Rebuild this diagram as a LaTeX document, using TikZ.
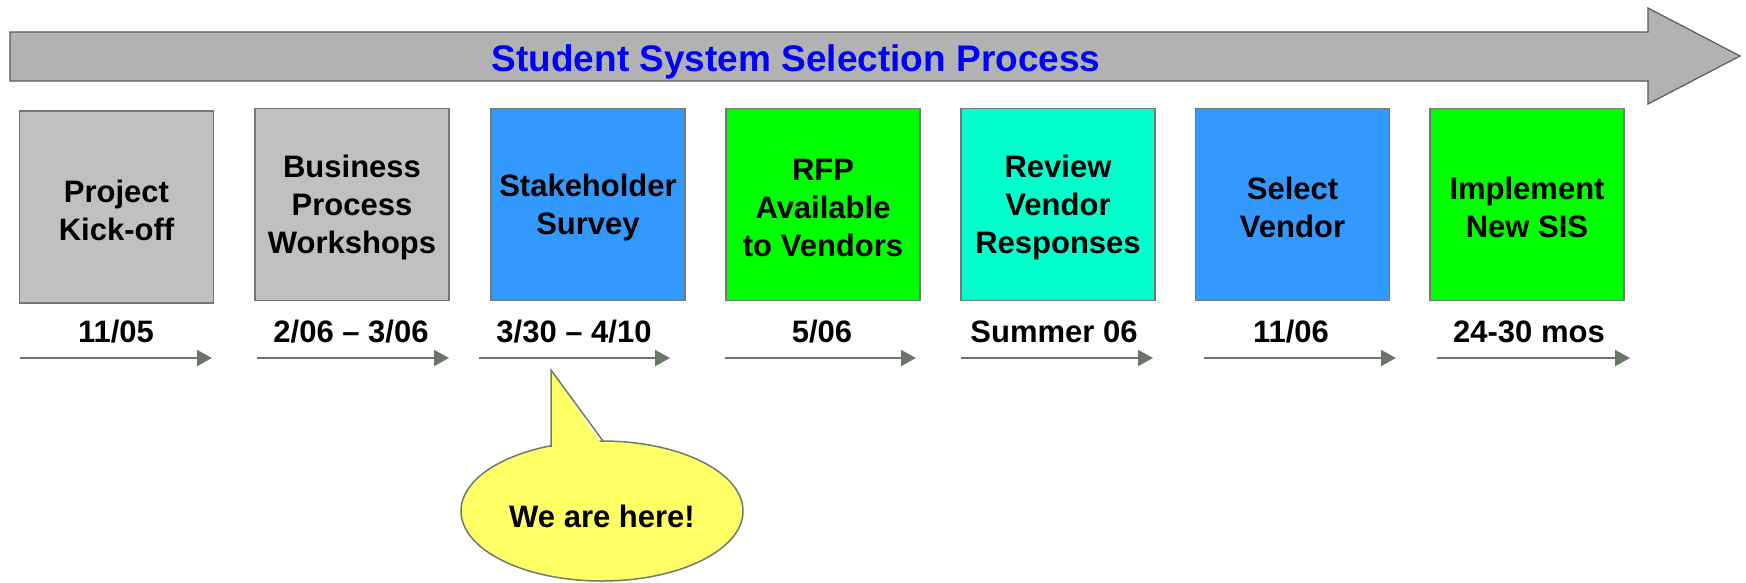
\documentclass[tikz,border=0pt]{standalone}
\usepackage{fontspec}
\setmainfont{Liberation Sans}
\usetikzlibrary{arrows.meta}
\definecolor{boxgray}{HTML}{C0C0C0}
\definecolor{boxblue}{HTML}{3399FF}
\definecolor{boxgreen}{HTML}{00FF00}
\definecolor{boxaqua}{HTML}{00FFCC}
\definecolor{calloutyellow}{HTML}{FFFF66}
\definecolor{edgegray}{HTML}{6E7B6E}
\definecolor{arrowgray}{HTML}{687868}
\definecolor{bannerfill}{HTML}{B2B2B2}
\definecolor{banneredge}{HTML}{5A5A5A}
\definecolor{titleblue}{HTML}{0000FF}
\begin{document}
\begin{tikzpicture}[x=1pt,y=-1pt,
  stepbox/.style={draw=edgegray, line width=1.5pt, minimum width=194pt, minimum height=192pt,
    inner sep=0pt, align=center},
  steptext/.style={inner sep=0pt, align=center, font=\fontsize{31}{38}\selectfont\bfseries},
  datelbl/.style={inner sep=0pt, font=\fontsize{31}{38}\selectfont\bfseries},
  timearrow/.style={draw=arrowgray, line width=2pt, -{Triangle[length=15pt,width=16pt]}},
  banner/.style={fill=bannerfill, draw=banneredge, line width=1.2pt, line join=miter},
  callout/.style={fill=calloutyellow, draw=edgegray, line width=1.5pt}
]
\useasboundingbox (0,0) rectangle (1746,582);

% banner arrow
\path[banner] (10,32) -- (1648,32) -- (1648,8) -- (1740,56) -- (1648,104) -- (1648,81) -- (10,81) -- cycle;
\node[inner sep=0pt, text=titleblue, font=\fontsize{37}{44}\selectfont\bfseries] (title) at (796,62) {Student System Selection Process};

% step boxes
\node[stepbox, fill=boxgray]  (s1) at (116.5,207)  {};
\node[stepbox, fill=boxgray]  (s2) at (352,204.5)  {};
\node[stepbox, fill=boxblue]  (s3) at (588,204.5)  {};
\node[stepbox, fill=boxgreen] (s4) at (823,204.5)  {};
\node[stepbox, fill=boxaqua]  (s5) at (1058,204.5) {};
\node[stepbox, fill=boxblue]  (s6) at (1292.5,204.5) {};
\node[stepbox, fill=boxgreen] (s7) at (1527,204.5) {};
\node[steptext] (t1) at ([yshift=-3pt]s1.center) {Project\\Kick-off};
\node[steptext] (t2) at ([yshift=-3pt]s2.center) {Business\\Process\\Workshops};
\node[steptext] (t3) at ([yshift=-3pt]s3.center) {Stakeholder\\Survey};
\node[steptext] (t4) at ([yshift=-3pt]s4.center) {RFP\\Available\\to Vendors};
\node[steptext] (t5) at ([yshift=-3pt]s5.center) {Review\\Vendor\\Responses};
\node[steptext] (t6) at ([yshift=-3pt]s6.center) {Select\\Vendor};
\node[steptext] (t7) at ([yshift=-3pt]s7.center) {Implement\\New SIS};

% date labels
\node[datelbl] (d1) at (116,332)  {11/05};
\node[datelbl] (d2) at (351,332)  {2/06 – 3/06};
\node[datelbl] (d3) at (574,332)  {3/30 – 4/10};
\node[datelbl] (d4) at (822,332)  {5/06};
\node[datelbl] (d5) at (1054,332) {Summer 06};
\node[datelbl] (d6) at (1291,332) {11/06};
\node[datelbl] (d7) at (1529,332) {24-30 mos};

% time arrows
\coordinate (a1s) at (20,358);   \coordinate (a1e) at (212,358);
\coordinate (a2s) at (257,358);  \coordinate (a2e) at (449,358);
\coordinate (a3s) at (479,358);  \coordinate (a3e) at (670,358);
\coordinate (a4s) at (725,358);  \coordinate (a4e) at (916,358);
\coordinate (a5s) at (961,358);  \coordinate (a5e) at (1153,358);
\coordinate (a6s) at (1204,358); \coordinate (a6e) at (1396,358);
\coordinate (a7s) at (1437,358); \coordinate (a7e) at (1630,358);
\foreach \i in {1,...,7} { \draw[timearrow] (a\i s) -- (a\i e); }

% callout
\path[callout] (602,511) ellipse [x radius=141, y radius=70];
\fill[calloutyellow] (551,452) -- (551,370) -- (603,446) -- cycle;
\draw[draw=edgegray, line width=1.5pt, line join=miter] (551,447) -- (551,370) -- (603,441);
\node[datelbl] (here) at (602,516) {We are here!};
\end{tikzpicture}
\end{document}
